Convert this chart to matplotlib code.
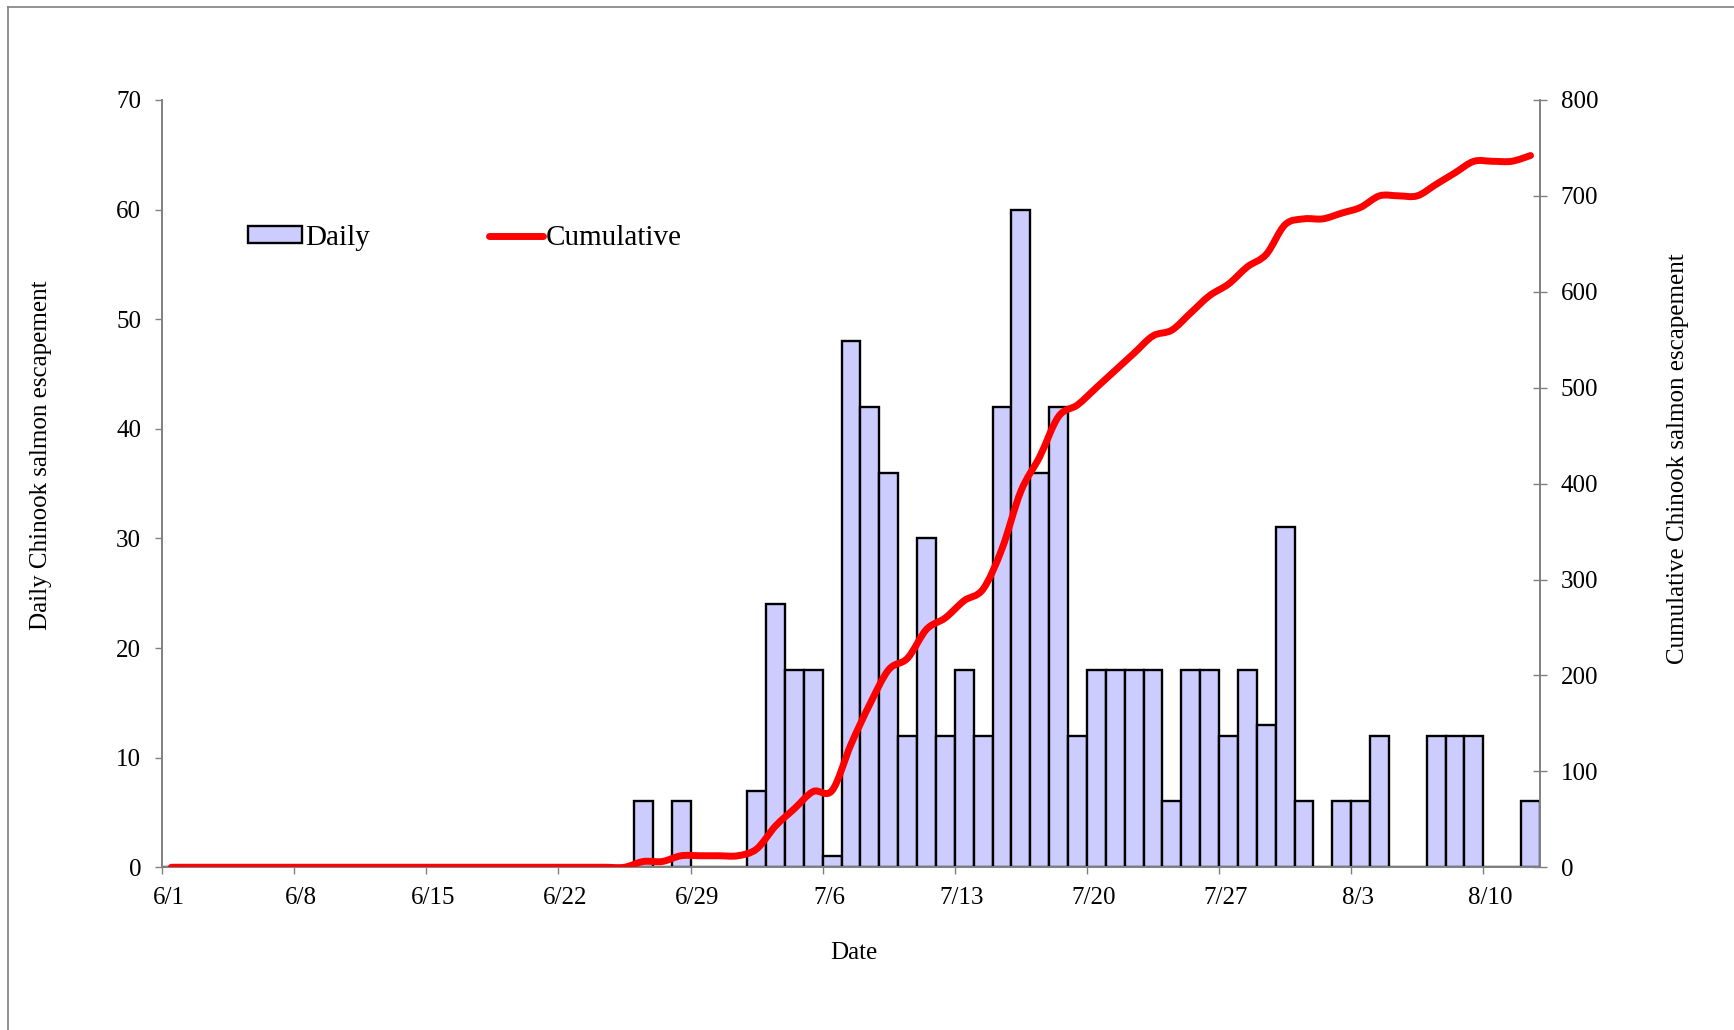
import numpy as np
import pandas as pd
import matplotlib
matplotlib.use("Agg")
import matplotlib.pyplot as plt
import matplotlib.transforms as mtrans
from matplotlib.path import Path
from matplotlib.patches import PathPatch, Patch
from matplotlib.lines import Line2D

plt.rcParams['font.family'] = ['Liberation Serif', 'DejaVu Serif']

# one value per day, 6/1 .. 8/12
dates = pd.date_range('2000-06-01', '2000-08-12')
daily = [0, 0, 0, 0, 0, 0, 0, 0, 0, 0,
         0, 0, 0, 0, 0, 0, 0, 0, 0, 0,
         0, 0, 0, 0, 0, 6, 0, 6, 0, 0,
         0, 7, 24, 18, 18, 1, 48, 42, 36, 12,
         30, 12, 18, 12, 42, 60, 36, 42, 12, 18,
         18, 18, 18, 6, 18, 18, 12, 18, 13, 31,
         6, 0, 6, 6, 12, 0, 0, 12, 12, 12,
         0, 0, 6]
cumulative = [0, 0, 0, 0, 0, 0, 0, 0, 0, 0,
              0, 0, 0, 0, 0, 0, 0, 0, 0, 0,
              0, 0, 0, 0, 0, 6, 6, 12, 12, 12,
              12, 19, 43, 61, 79, 80, 128, 170, 206, 218,
              248, 260, 278, 290, 332, 392, 428, 470, 482, 500,
              518, 536, 554, 560, 578, 596, 608, 626, 639, 670,
              676, 676, 682, 688, 700, 700, 700, 712, 724, 736,
              736, 736, 742]
tick_days = [0, 7, 14, 21, 28, 35, 42, 49, 56, 63, 70]
tick_labels = [f"{dates[d].month}/{dates[d].day}" for d in tick_days]

BAR = '#ccccff'
RED = '#ff0000'
GREY = '#808080'
FS = 18


def smooth_path(x, y):
    # Excel-style smoothed line as cubic bezier segments
    n = len(x)
    verts = [(x[0], y[0])]
    codes = [Path.MOVETO]
    for i in range(n - 1):
        xp, yp = (x[i - 1], y[i - 1]) if i > 0 else (x[i], y[i])
        xn, yn = (x[i + 2], y[i + 2]) if i + 2 < n else (x[i + 1], y[i + 1])
        c1 = (x[i] + (x[i + 1] - xp) / 6, y[i] + (y[i + 1] - yp) / 6)
        c2 = (x[i + 1] - (xn - x[i]) / 6, y[i + 1] - (yn - y[i]) / 6)
        verts += [c1, c2, (x[i + 1], y[i + 1])]
        codes += [Path.CURVE4] * 3
    return Path(verts, codes)


fig = plt.figure(figsize=(17.34, 10.30), dpi=100)
ax = fig.add_axes([0.0934, 0.158, 0.7947, 0.745])
ax2 = ax.twinx()

xpos = np.arange(len(dates)) + 0.5
ax.bar(xpos, daily, width=1.0, color=BAR, edgecolor='black', linewidth=1.7, zorder=2)

path = smooth_path(xpos, cumulative)
ax2.add_patch(PathPatch(path, fill=False, edgecolor=RED, linewidth=5,
                        capstyle='round', joinstyle='round', zorder=3))

ax.set_xlim(0, len(dates))
ax.set_ylim(0, 70)
ax2.set_ylim(0, 800)
ax.set_yticks(np.arange(0, 71, 10))
ax2.set_yticks(np.arange(0, 801, 100))
ax.set_xticks(tick_days)
ax.set_xticklabels(tick_labels)

for a in (ax, ax2):
    a.spines['top'].set_visible(False)
    for s in a.spines.values():
        s.set_color(GREY)
        s.set_linewidth(1.2)
ax.tick_params(axis='y', direction='out', length=5, width=1, color=GREY, labelsize=FS, pad=10)
ax.tick_params(axis='x', direction='out', length=5, width=1, color=GREY, labelsize=FS, pad=9)
ax2.tick_params(axis='y', direction='inout', length=10, width=1, color=GREY, labelsize=FS, pad=10)

# date labels sit a little right of their ticks
shift = mtrans.ScaledTranslation(0.07, 0, fig.dpi_scale_trans)
for lab in ax.get_xticklabels():
    lab.set_transform(lab.get_transform() + shift)

ax.set_ylabel('Daily Chinook salmon escapement', fontsize=FS)
ax.yaxis.set_label_coords(-0.08, 0.537)
ax2.set_ylabel('Cumulative Chinook salmon escapement', fontsize=FS)
ax2.yaxis.set_label_coords(1.092, 0.532)
ax.set_xlabel('Date', fontsize=FS)
ax.xaxis.set_label_coords(0.502, -0.097)

handles = [Patch(facecolor=BAR, edgecolor='black', linewidth=1.7),
           Line2D([], [], color=RED, linewidth=5, solid_capstyle='round')]
ax.legend(handles, ['Daily', 'Cumulative'], ncol=2, frameon=False, fontsize=21,
          loc='center left', bbox_to_anchor=(0.054, 0.82), borderaxespad=0,
          handlelength=1.85, handleheight=0.5, handletextpad=0.1, columnspacing=4.1)

# thin grey frame along the top and left of the picture
fig.add_artist(Line2D([0.0046, 1], [0.9932, 0.9932], color=GREY, linewidth=1.2))
fig.add_artist(Line2D([0.0046, 0.0046], [0, 0.9932], color=GREY, linewidth=1.2))

fig.savefig('out.png', dpi=100)
